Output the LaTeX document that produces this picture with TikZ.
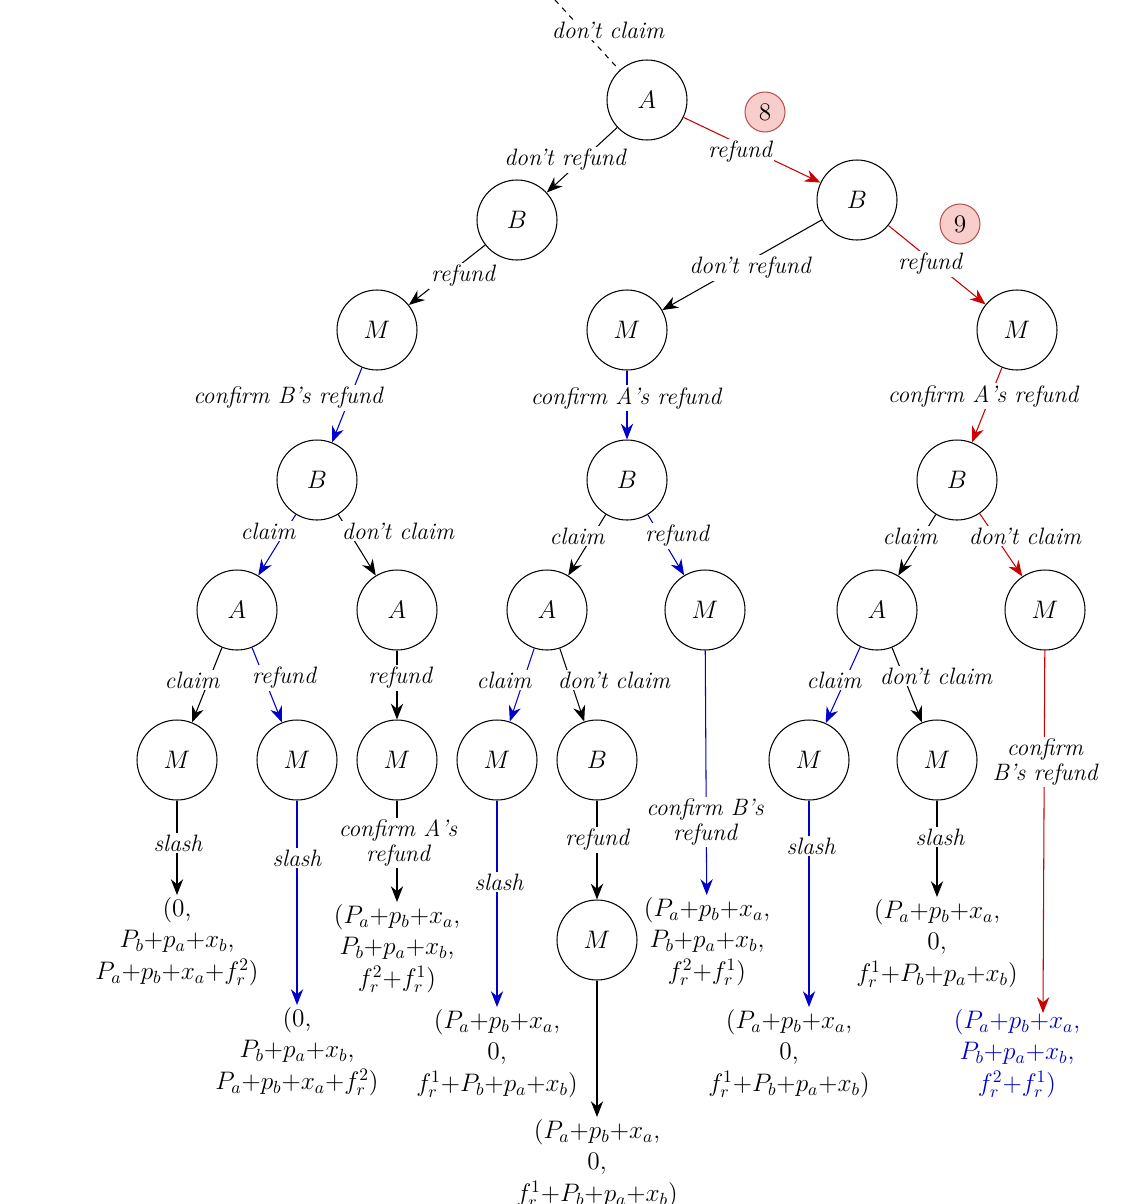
\documentclass[tikz,border=0pt]{standalone}
\usepackage{tikz}
\usetikzlibrary{arrows.meta}
\begin{document}
\begin{tikzpicture}[x=0.02cm, y=-0.02cm, >={Stealth[length=9pt,width=7pt]},
  default/.style={draw=black, semithick, fill=white, circle, minimum size=1.6cm, font=\Large},
  lbl/.style={fill=white, inner sep=1pt, font=\fontsize{13.5}{14.5}\selectfont\itshape, align=center},
  leaf/.style={anchor=north, align=center, font=\Large, inner sep=1pt},
  badge/.style={draw={rgb,255:red,184;green,84;blue,80}, fill={rgb,255:red,248;green,206;blue,204}, circle, minimum size=0.8cm, inner sep=0pt, font=\Large},
  bl/.style={draw={rgb,255:red,0;green,0;blue,204}},
  rd/.style={draw={rgb,255:red,204;green,0;blue,0}},
  semithick]
\useasboundingbox (0,0) rectangle (1148,1204);
\node[default] (A1) at (647,100) {$A$};
\node[default] (B1) at (517,220) {$B$};
\node[default] (B2) at (857,200) {$B$};
\node[default] (M1) at (377,330) {$M$};
\node[default] (M2) at (627,330) {$M$};
\node[default] (M3) at (1017,330) {$M$};
\node[default] (B3) at (317,480) {$B$};
\node[default] (B4) at (627,480) {$B$};
\node[default] (B5) at (957,480) {$B$};
\node[default] (A2) at (237,610) {$A$};
\node[default] (A3) at (397,610) {$A$};
\node[default] (A4) at (547,610) {$A$};
\node[default] (M4) at (705,610) {$M$};
\node[default] (A5) at (877,610) {$A$};
\node[default] (M5) at (1045,610) {$M$};
\node[default] (M6) at (177,760) {$M$};
\node[default] (M7) at (297,760) {$M$};
\node[default] (M8) at (397,760) {$M$};
\node[default] (M9) at (497,760) {$M$};
\node[default] (B6) at (597,760) {$B$};
\node[default] (M10) at (809,760) {$M$};
\node[default] (M11) at (937,760) {$M$};
\node[default] (M12) at (597,940) {$M$};
\node[leaf] (L1) at (177,895) {(0,\\ $P_b{+}p_a{+}x_b$,\\ $P_a{+}p_b{+}x_a{+}f_r^2$)};
\node[leaf] (L2) at (297,1005) {(0,\\ $P_b{+}p_a{+}x_b$,\\ $P_a{+}p_b{+}x_a{+}f_r^2$)};
\node[leaf] (L3) at (397,902) {($P_a{+}p_b{+}x_a$,\\ $P_b{+}p_a{+}x_b$,\\ $f_r^2{+}f_r^1$)};
\node[leaf] (L4) at (497,1007) {($P_a{+}p_b{+}x_a$,\\ 0,\\ $f_r^1{+}P_b{+}p_a{+}x_b$)};
\node[leaf] (L5) at (597,1117) {($P_a{+}p_b{+}x_a$,\\ 0,\\ $f_r^1{+}P_b{+}p_a{+}x_b$)};
\node[leaf] (L6) at (707,895) {($P_a{+}p_b{+}x_a$,\\ $P_b{+}p_a{+}x_b$,\\ $f_r^2{+}f_r^1$)};
\node[leaf] (L7) at (789,1007) {($P_a{+}p_b{+}x_a$,\\ 0,\\ $f_r^1{+}P_b{+}p_a{+}x_b$)};
\node[leaf] (L8) at (937,897) {($P_a{+}p_b{+}x_a$,\\ 0,\\ $f_r^1{+}P_b{+}p_a{+}x_b$)};
\node[leaf, text={rgb,255:red,0;green,0;blue,204}] (L9) at (1017,1007) {($P_a{+}p_b{+}x_a$,\\ $P_b{+}p_a{+}x_b$,\\ $f_r^2{+}f_r^1$)};
\node[badge] (N8) at (765,112) {8};
\node[badge] (N9) at (960,224) {9};
\coordinate (top) at (555,0);
\coordinate (L7t) at (809,1007);
\coordinate (L9t) at (1043,1013);
\draw [dashed] (top) -- (A1) node[lbl] at (608,30) {don't claim};
\draw [->] (A1) -- (B1) node[lbl] at (565,160) {don't refund};
\draw [->, rd] (A1) -- (B2) node[lbl] at (740,152) {refund};
\draw [->] (B1) -- (M1) node[lbl] at (463,276) {refund};
\draw [->] (B2) -- (M2) node[lbl] at (750,268) {don't refund};
\draw [->, rd] (B2) -- (M3) node[lbl] at (930,264) {refund};
\draw [->, bl] (M1) -- (B3) node[lbl] at (288,398) {confirm B's refund};
\draw [->, bl] (M2) -- (B4) node[lbl] at (626,398) {confirm A's refund};
\draw [->, rd] (M3) -- (B5) node[lbl] at (983,396) {confirm A's refund};
\draw [->, bl] (B3) -- (A2) node[lbl] at (268,531) {claim};
\draw [->] (B3) -- (A3) node[lbl] at (398,531) {don't claim};
\draw [->] (B4) -- (A4) node[lbl] at (577,536) {claim};
\draw [->, bl] (B4) -- (M4) node[lbl] at (677,536) {refund};
\draw [->] (B5) -- (A5) node[lbl] at (910,536) {claim};
\draw [->, rd] (B5) -- (M5) node[lbl] at (1025,536) {don't claim};
\draw [->] (A2) -- (M6) node[lbl] at (192,680) {claim};
\draw [->, bl] (A2) -- (M7) node[lbl] at (284,678) {refund};
\draw [->] (A3) -- (M8) node[lbl] at (400,678) {refund};
\draw [->, bl] (A4) -- (M9) node[lbl] at (504,680) {claim};
\draw [->] (A4) -- (B6) node[lbl] at (614,680) {don't claim};
\draw [->, bl] (M4) -- (L6) node[lbl] at (705,822) {confirm B's\\ refund};
\draw [->, bl] (A5) -- (M10) node[lbl] at (834,680) {claim};
\draw [->] (A5) -- (M11) node[lbl] at (936,676) {don't claim};
\draw [->, rd] (M5) -- (L9t) node[lbl] at (1045,762) {confirm\\ B's refund};
\draw [->] (M6) -- (L1) node[lbl] at (178,843) {slash};
\draw [->, bl] (M7) -- (L2) node[lbl] at (297,858) {slash};
\draw [->] (M8) -- (L3) node[lbl] at (398,843) {confirm A's\\ refund};
\draw [->, bl] (M9) -- (L4) node[lbl] at (499,882) {slash};
\draw [->] (B6) -- (M12) node[lbl] at (597,840) {refund};
\draw [->] (M12) -- (L5);
\draw [->, bl] (M10) -- (L7t) node[lbl] at (811,846) {slash};
\draw [->] (M11) -- (L8) node[lbl] at (940,837) {slash};
\end{tikzpicture}
\end{document}
